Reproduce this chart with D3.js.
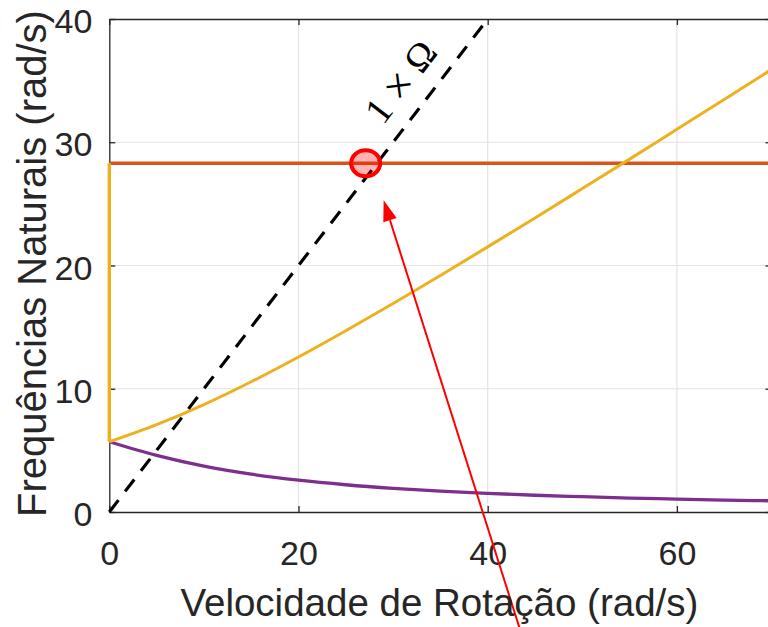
<!DOCTYPE html>
<html>
<head>
<meta charset="utf-8">
<script src="https://cdn.jsdelivr.net/npm/d3@7/dist/d3.min.js"></script>
<style>
  html, body { margin: 0; padding: 0; background: #fff; }
  svg { display: block; }
</style>
</head>
<body>
<svg id="chart" width="768" height="627"></svg>
<script>
// Rotation speed samples (rad/s)
const rotationSpeed = [0, 5, 10, 15, 20, 25, 30, 35, 40, 45, 50, 55, 60, 65, 70];
// Forward whirl natural frequency (rad/s)
const forwardFreq = [5.70, 7.09, 8.72, 10.57, 12.58, 14.71, 16.92, 19.19, 21.51, 23.86, 26.24, 28.63, 31.05, 33.47, 35.91];
// Backward whirl natural frequency (rad/s)
const backwardFreq = [5.70, 4.59, 3.72, 3.07, 2.58, 2.21, 1.92, 1.69, 1.51, 1.36, 1.24, 1.13, 1.05, 0.97, 0.91];
// Speed-independent mode (rad/s)
const constantFreq = 28.3;
// 1 x Omega excitation line end points
const excitationX = [0, 40];
const excitationY = [0, 40];
// Highlighted crossing and pointer (data coordinates)
const markerPoint = [27.1, 28.3];
const arrowTail = [43.4, -9.5];
const arrowTip = [29.0, 25.3];

const xTicks = [0, 20, 40, 60];
const yTicks = [0, 10, 20, 30, 40];

const plot = { left: 109.3, right: 771.5, top: 19, bottom: 512 };

const x = d3.scaleLinear().domain([0, 70]).range([plot.left, plot.right]);
const y = d3.scaleLinear().domain([0, 40]).range([plot.bottom, plot.top]);

const svg = d3.select("#chart");
const axisColor = "#262626";
const font = "'Liberation Sans', Arial, Helvetica, sans-serif";

// grid
const grid = svg.append("g");
grid.selectAll("line.gx").data(xTicks.filter(d => d > 0)).join("line")
  .attr("x1", d => x(d)).attr("x2", d => x(d))
  .attr("y1", plot.top).attr("y2", plot.bottom)
  .attr("stroke", "#e3e3e3").attr("stroke-width", 1.2);
grid.selectAll("line.gy").data(yTicks.filter(d => d > 0 && d < 40)).join("line")
  .attr("x1", plot.left).attr("x2", plot.right)
  .attr("y1", d => y(d)).attr("y2", d => y(d))
  .attr("stroke", "#e3e3e3").attr("stroke-width", 1.2);

// axes (box style with inward ticks)
const tickLen = 6;
const xBottom = svg.append("g").attr("transform", `translate(0,${plot.bottom})`)
  .call(d3.axisBottom(x).tickValues(xTicks).tickSizeInner(-tickLen).tickSizeOuter(0).tickPadding(29));
const xTop = svg.append("g").attr("transform", `translate(0,${plot.top})`)
  .call(d3.axisTop(x).tickValues(xTicks).tickSizeInner(-tickLen).tickSizeOuter(0).tickFormat(""));
const yLeft = svg.append("g").attr("transform", `translate(${plot.left},0)`)
  .call(d3.axisLeft(y).tickValues(yTicks).tickSizeInner(-tickLen).tickSizeOuter(0).tickPadding(17));
const yRight = svg.append("g").attr("transform", `translate(${plot.right},0)`)
  .call(d3.axisRight(y).tickValues(yTicks).tickSizeInner(-tickLen).tickSizeOuter(0).tickFormat(""));

[xBottom, xTop, yLeft, yRight].forEach(g => {
  g.select(".domain").attr("stroke", axisColor).attr("stroke-width", 1.3);
  g.selectAll(".tick line").attr("stroke", axisColor).attr("stroke-width", 1.3);
  g.selectAll(".tick text").attr("fill", axisColor)
    .style("font-family", font).style("font-size", "34px");
});
yLeft.selectAll(".tick text").attr("dy", "0.4em");

// series
const lineGen = d3.line().x(d => x(d[0])).y(d => y(d[1])).curve(d3.curveMonotoneX);

svg.append("line")
  .attr("x1", x(0)).attr("x2", x(70))
  .attr("y1", y(constantFreq)).attr("y2", y(constantFreq))
  .attr("stroke", "#D95319").attr("stroke-width", 3.4);

svg.append("path")
  .datum(rotationSpeed.map((v, i) => [v, backwardFreq[i]]))
  .attr("d", lineGen).attr("fill", "none")
  .attr("stroke", "#7E2F8E").attr("stroke-width", 3.3);

svg.append("line")
  .attr("x1", x(0)).attr("x2", x(0))
  .attr("y1", y(constantFreq)).attr("y2", y(forwardFreq[0]))
  .attr("stroke", "#EDB120").attr("stroke-width", 3.4);

svg.append("path")
  .datum(rotationSpeed.map((v, i) => [v, forwardFreq[i]]))
  .attr("d", lineGen).attr("fill", "none")
  .attr("stroke", "#EDB120").attr("stroke-width", 3);

svg.append("line")
  .attr("x1", x(excitationX[0])).attr("y1", y(excitationY[0]))
  .attr("x2", x(excitationX[1])).attr("y2", y(excitationY[1]))
  .attr("stroke", "#000").attr("stroke-width", 3.2)
  .attr("stroke-dasharray", "15,11");

// label along the excitation line
const dx = x(1) - x(0), dy = y(1) - y(0);
const len = Math.hypot(dx, dy);
const angle = Math.atan2(dy, dx) * 180 / Math.PI;
const nx = dy / len, ny = -dx / len; // normal pointing up-left
const anchorV = 33.4;
const lx = x(anchorV) + nx * 31, ly = y(anchorV) + ny * 31;
const omegaLabel = svg.append("text")
  .attr("transform", `translate(${lx},${ly}) rotate(${angle})`)
  .attr("text-anchor", "middle").attr("dominant-baseline", "central")
  .style("font-family", "'Liberation Serif', 'Times New Roman', serif")
  .style("font-size", "38px").attr("fill", "#000");
omegaLabel.append("tspan").text("1 ");
omegaLabel.append("tspan").style("font-size", "46px").text("×");
omegaLabel.append("tspan").text(" Ω");

// highlighted crossing
svg.append("ellipse")
  .attr("cx", x(markerPoint[0])).attr("cy", y(markerPoint[1]))
  .attr("rx", 14.5).attr("ry", 13)
  .attr("fill", "rgba(255,0,0,0.3)")
  .attr("stroke", "#FF0000").attr("stroke-width", 4);

// pointer arrow
const tx = x(arrowTail[0]), ty = y(arrowTail[1]);
const hx = x(arrowTip[0]), hy = y(arrowTip[1]);
const al = Math.hypot(hx - tx, hy - ty);
const ux = (hx - tx) / al, uy = (hy - ty) / al;
const headLen = 21, headW = 7;
const bx = hx - ux * headLen, by = hy - uy * headLen;
svg.append("line")
  .attr("x1", tx).attr("y1", ty).attr("x2", bx).attr("y2", by)
  .attr("stroke", "#FF0000").attr("stroke-width", 2);
svg.append("path")
  .attr("d", `M${hx},${hy}L${bx - uy * headW},${by + ux * headW}L${bx + uy * headW},${by - ux * headW}Z`)
  .attr("fill", "#FF0000");

// axis titles
svg.append("text")
  .attr("x", (plot.left + plot.right) / 2 - 1).attr("y", 616)
  .attr("text-anchor", "middle").attr("fill", axisColor)
  .style("font-family", font).style("font-size", "38.5px")
  .text("Velocidade de Rotação (rad/s)");
svg.append("text")
  .attr("transform", `translate(46,${(plot.top + plot.bottom) / 2 - 2}) rotate(-90)`)
  .attr("text-anchor", "middle").attr("fill", axisColor)
  .style("font-family", font).style("font-size", "40px")
  .text("Frequências Naturais (rad/s)");
</script>
</body>
</html>
